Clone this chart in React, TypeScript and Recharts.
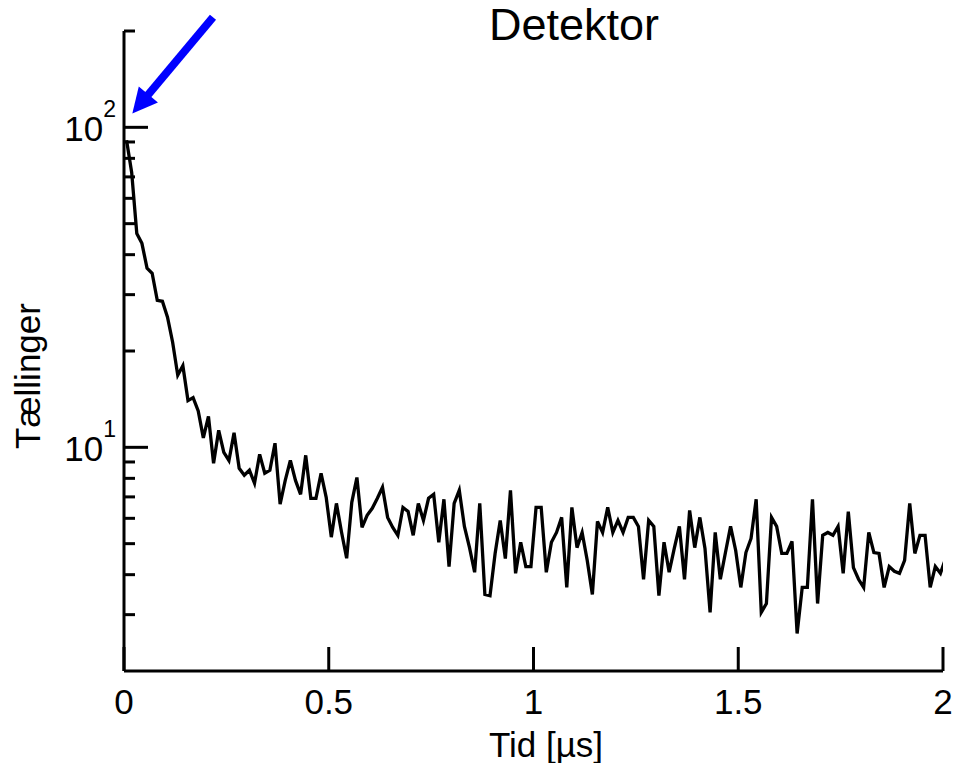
import React from 'react';
import { LineChart, Line, XAxis, YAxis, ReferenceLine } from 'recharts';

const FONT = '"Liberation Sans", Arial, Helvetica, sans-serif';

// Time bins of the detector histogram (bin width in µs); points sit at bin centres
const BIN_WIDTH_US = 0.0125;

// Counts per bin
const counts = [
  91.1, 72.3, 46.6, 43.4, 36.3, 35.0, 28.8, 28.6, 25.5, 21.3,
  16.8, 18.0, 14.0, 14.3, 13.0, 10.7, 12.5, 8.91, 11.3, 9.65,
  9.1, 11.1, 8.6, 8.18, 8.48, 7.72, 9.51, 8.3, 8.48, 10.3,
  6.64, 7.88, 9.1, 7.88, 7.13, 9.44, 6.93, 6.93, 8.3, 6.98,
  5.24, 6.68, 5.43, 4.5, 6.73, 8.05, 5.62, 6.13, 6.45, 6.93,
  7.5, 6.04, 5.62, 5.31, 6.49, 6.3, 5.31, 6.68, 5.91, 6.93,
  7.13, 5.05, 6.88, 4.24, 6.68, 7.34, 5.66, 4.86, 4.07, 6.68,
  3.47, 3.44, 4.66, 5.91, 4.49, 7.34, 4.04, 5.05, 4.24, 4.24,
  6.49, 6.49, 4.07, 5.05, 5.42, 6.04, 3.65, 6.49, 4.86, 5.42,
  4.43, 3.47, 5.87, 5.42, 6.49, 5.42, 5.91, 5.42, 6.04, 6.04,
  5.66, 3.87, 5.91, 5.66, 3.44, 5.05, 4.07, 4.83, 5.66, 3.87,
  6.35, 4.86, 6.04, 4.83, 3.05, 5.42, 3.87, 4.69, 5.66, 4.76,
  3.65, 4.69, 5.19, 6.88, 3.05, 3.25, 6.04, 5.66, 4.66, 4.66,
  5.08, 2.62, 3.65, 3.65, 6.88, 3.25, 5.31, 5.42, 5.31, 5.66,
  4.04, 6.3, 4.21, 3.87, 3.65, 5.42, 4.69, 4.66, 3.65, 4.24,
  4.1, 4.04, 4.43, 6.68, 4.66, 5.31, 5.31, 3.65, 4.24, 4.04,
  4.49,
];

const xTicks = [0, 0.5, 1, 1.5, 2];
const xTickLabels = ['0', '0.5', '1', '1.5', '2'];
const yTicks = [3, 4, 5, 6, 7, 8, 9, 10, 20, 30, 40, 50, 60, 70, 80, 90, 100, 200];
const yMajorTicks = [10, 100];
const yMajorExponents = ['1', '2'];

const titleText = 'Detektor';
const xLabelText = 'Tid [µs]';
const yLabelText = 'Tællinger';

// Arrow annotation (data coordinates): tail -> tip
const arrowTail = { x: 0.2173, y: 220.8 };
const arrowTip = { x: 0.0203, y: 110.4 };

const data = counts.map((c, i) => ({ t: (i + 0.5) * BIN_WIDTH_US, counts: c }));

const XTick = (props: any) => {
  const { x, y, payload } = props;
  const idx = xTicks.indexOf(payload.value);
  return (
    <g>
      <line x1={x} x2={x} y1={y} y2={y - 24} stroke="#000" strokeWidth={3} />
      <text x={x} y={y + 43} textAnchor="middle" fontSize={35} fontFamily={FONT} fill="#000">
        {idx >= 0 ? xTickLabels[idx] : String(payload.value)}
      </text>
    </g>
  );
};

const YTick = (props: any) => {
  const { x, y, payload } = props;
  const mi = yMajorTicks.indexOf(payload.value);
  const major = mi >= 0;
  return (
    <g>
      <line x1={x} x2={x + (major ? 24 : 11)} y1={y} y2={y} stroke="#000" strokeWidth={3} />
      {major && (
        <text x={x - 8} y={y + 14} textAnchor="end" fontSize={35} fontFamily={FONT} fill="#000">
          <tspan>10</tspan>
          <tspan dy={-24} fontSize={23}>{yMajorExponents[mi]}</tspan>
        </text>
      )}
    </g>
  );
};

const ArrowShape = (props: any) => {
  const { x1, y1, x2, y2 } = props;
  const dx = x2 - x1;
  const dy = y2 - y1;
  const len = Math.hypot(dx, dy) || 1;
  const ux = dx / len;
  const uy = dy / len;
  const headLen = 25;
  const headHalf = 12.5;
  const bx = x2 - ux * headLen;
  const by = y2 - uy * headLen;
  const px = -uy;
  const py = ux;
  return (
    <g>
      <line x1={x1} y1={y1} x2={bx + ux * 2} y2={by + uy * 2} stroke="#0000ff" strokeWidth={8} />
      <polygon
        points={`${x2},${y2} ${bx + px * headHalf},${by + py * headHalf} ${bx - px * headHalf},${by - py * headHalf}`}
        fill="#0000ff"
      />
    </g>
  );
};

const Texts = () => (
  <g>
    <text x={574} y={40} textAnchor="middle" fontSize={45} fontFamily={FONT} fill="#000">
      {titleText}
    </text>
    <text x={546} y={757} textAnchor="middle" fontSize={35} fontFamily={FONT} fill="#000">
      {xLabelText}
    </text>
    <text transform="translate(40,376) rotate(-90)" textAnchor="middle" fontSize={35} fontFamily={FONT} fill="#000">
      {yLabelText}
    </text>
  </g>
);

export default function App() {
  return (
    <div style={{ position: 'absolute', left: 0, top: 0, width: 958, height: 763, background: '#fff' }}>
      <LineChart width={958} height={763} data={data} margin={{ top: 31, right: 15, bottom: 0, left: 0 }}>
        <XAxis
          dataKey="t"
          type="number"
          domain={[0, 2]}
          ticks={xTicks}
          interval={0}
          allowDataOverflow
          height={92}
          tickSize={0}
          tickMargin={0}
          tickLine={false}
          tick={(p: any) => <XTick {...p} />}
          axisLine={{ stroke: '#000', strokeWidth: 3 }}
          label={() => <Texts />}
        />
        <YAxis
          type="number"
          scale="log"
          domain={[2, 200]}
          ticks={yTicks}
          interval={0}
          allowDataOverflow
          width={124}
          tickSize={0}
          tickMargin={0}
          tickLine={false}
          tick={(p: any) => <YTick {...p} />}
          axisLine={{ stroke: '#000', strokeWidth: 3 }}
        />
        <Line
          type="linear"
          dataKey="counts"
          stroke="#000"
          strokeWidth={3.3}
          dot={false}
          isAnimationActive={false}
        />
        <ReferenceLine
          segment={[arrowTail, arrowTip]}
          ifOverflow="visible"
          shape={(p: any) => <ArrowShape {...p} />}
        />
      </LineChart>
    </div>
  );
}
